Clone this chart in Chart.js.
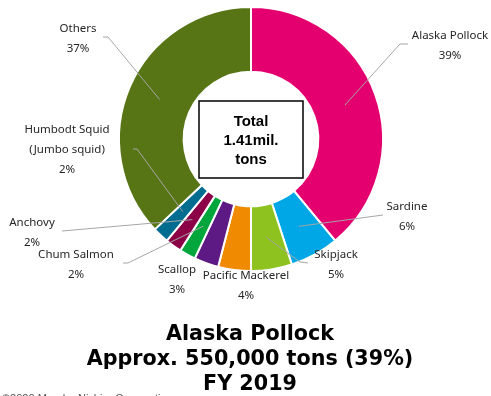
<!DOCTYPE html>
<html>
<head>
<meta charset="utf-8">
<script src="https://cdn.jsdelivr.net/npm/chart.js@4.4.1/dist/chart.umd.min.js"></script>
<style>
  html, body { margin: 0; padding: 0; background: #fff; }
  #wrap { position: relative; width: 491px; height: 396px; }
</style>
</head>
<body>
<div id="wrap"><canvas id="fishPie"></canvas></div>
<script>
// catch by species, FY2019 (share of total, %)
const categories = ['Alaska Pollock', 'Sardine', 'Skipjack', 'Pacific Mackerel', 'Scallop',
  'Chum Salmon', 'Anchovy', 'Humbodt Squid\n(Jumbo squid)', 'Others'];
const shares = [39, 6, 5, 4, 3, 2, 2, 2, 37];
const colors = ['#E4006F', '#00A7E6', '#8DC21F', '#F08A00', '#5D1A84',
  '#00A63C', '#8B0047', '#006C8F', '#587516'];
const centerText = ['Total', '1.41mil.', 'tons'];
const titleLines = ['Alaska Pollock', 'Approx. 550,000 tons (39%)', 'FY 2019'];

// label layout: [x, y] of first text line, leader start points (null = no line)
const labelPos = [[450, 36], [407, 207], [336, 255], [246, 276], [177, 270],
  [76, 255], [32, 223], [67, 130], [78, 29]];
const leaders = [
  [[408, 44], [400, 44]],
  [[383, 215]],
  [[308, 263], [300, 262]],
  null,
  null,
  [[123, 263], [128, 263]],
  [[62, 231]],
  [[133, 149], [137, 149]],
  [[103, 37], [108, 37]]
];

const labelPlugin = {
  id: 'fishLabels',
  afterDraw(chart) {
    const ctx = chart.ctx;
    const arcs = chart.getDatasetMeta(0).data;
    ctx.save();

    // leader lines
    ctx.strokeStyle = '#a6a6a6';
    ctx.lineWidth = 1;
    leaders.forEach((pts, i) => {
      if (!pts) return;
      const end = arcs[i].tooltipPosition();
      ctx.beginPath();
      ctx.moveTo(pts[0][0], pts[0][1]);
      for (let k = 1; k < pts.length; k++) ctx.lineTo(pts[k][0], pts[k][1]);
      ctx.lineTo(end.x, end.y);
      ctx.stroke();
    });

    // labels
    ctx.fillStyle = '#262626';
    ctx.font = '11.5px "Noto Sans", Arial, sans-serif';
    ctx.textAlign = 'center';
    ctx.textBaseline = 'middle';
    categories.forEach((name, i) => {
      const lines = name.split('\n').concat([shares[i] + '%']);
      lines.forEach((t, k) => ctx.fillText(t, labelPos[i][0], labelPos[i][1] + k * 20));
    });

    // center box
    const a = arcs[0];
    const cx = a.x, cy = a.y;
    ctx.strokeStyle = '#000';
    ctx.lineWidth = 1.5;
    ctx.strokeRect(cx - 52, cy - 38, 104, 77);
    ctx.fillStyle = '#000';
    ctx.font = 'bold 15px "Liberation Sans", Arial, sans-serif';
    centerText.forEach((t, k) => ctx.fillText(t, cx, cy - 17 + k * 19));

    // title under the chart
    ctx.font = 'bold 20.7px "DejaVu Sans", Verdana, sans-serif';
    titleLines.forEach((t, k) => ctx.fillText(t, 250, 335 + k * 25));

    // copyright (cut by the bottom edge)
    ctx.fillStyle = '#555';
    ctx.font = '11px "Liberation Sans", Arial, sans-serif';
    ctx.textAlign = 'left';
    ctx.textBaseline = 'top';
    ctx.fillText('\u00A92020 Maruha Nichiro Corporation', 2, 393);
    ctx.restore();
  }
};

new Chart(document.getElementById('fishPie'), {
  type: 'doughnut',
  data: {
    labels: categories,
    datasets: [{
      data: shares,
      backgroundColor: colors,
      borderColor: '#fff',
      borderWidth: 2,
      hoverOffset: 0
    }]
  },
  options: {
    responsive: true,
    maintainAspectRatio: false,
    animation: false,
    events: [],
    radius: 132,
    cutout: '51%',
    layout: { padding: { left: 120, right: 109, top: 8, bottom: 126 } },
    plugins: {
      legend: { display: false },
      tooltip: { enabled: false }
    }
  },
  plugins: [labelPlugin]
});
</script>
</body>
</html>
